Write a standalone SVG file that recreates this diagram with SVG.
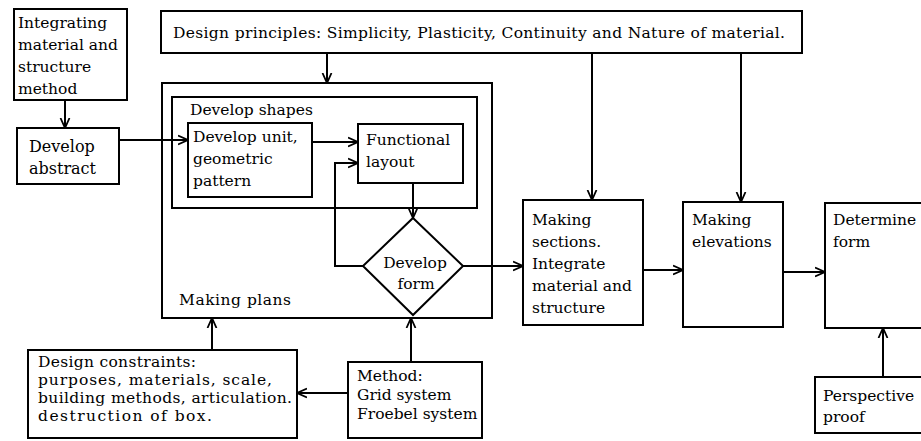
<svg xmlns="http://www.w3.org/2000/svg" width="921" height="441" viewBox="0 0 921 441">
<defs>
<marker id="ah" viewBox="0 0 10 10" refX="10" refY="5" markerWidth="10" markerHeight="12" markerUnits="userSpaceOnUse" orient="auto">
<path d="M0,0.5 L10,5 L0,9.5" fill="none" stroke="#000" stroke-width="1.8"/>
</marker>
<style>
rect, polygon { fill: #fff; stroke: #000; stroke-width: 2; }
text { font-family: "DejaVu Serif", "Liberation Serif", serif; font-size: 15.5px; fill: #000; }
.c path, .c line { fill: none; stroke: #000; stroke-width: 2; marker-end: url(#ah); }
</style>
</defs>
<rect x="0" y="0" width="921" height="441" style="fill:#fff;stroke:none"/>
<g id="n-integrating">
<rect x="14" y="9" width="113" height="91"/>
<text x="18" y="28">Integrating</text>
<text x="18" y="50">material and</text>
<text x="18" y="72">structure</text>
<text x="18" y="94">method</text>
</g>
<g id="n-abstract">
<rect x="17" y="128" width="102" height="56"/>
<text x="29" y="152" style="font-size:16px">Develop</text>
<text x="29" y="174" style="font-size:16px">abstract</text>
</g>
<g id="n-principles">
<rect x="161" y="11" width="641" height="42"/>
<text x="173" y="38" textLength="612" lengthAdjust="spacing">Design principles: Simplicity, Plasticity, Continuity and Nature of material.</text>
</g>
<g id="n-plans">
<rect x="162" y="83" width="330" height="235"/>
<text x="179" y="305" textLength="112" lengthAdjust="spacing">Making plans</text>
</g>
<g id="n-shapes">
<rect x="172" y="97" width="305" height="111"/>
<text x="190" y="115">Develop shapes</text>
</g>
<g id="n-unit">
<rect x="188" y="123" width="124" height="74"/>
<text x="193" y="142">Develop unit,</text>
<text x="193" y="164">geometric</text>
<text x="193" y="186">pattern</text>
</g>
<g id="n-functional">
<rect x="358" y="124" width="105" height="59"/>
<text x="366" y="145">Functional</text>
<text x="366" y="167">layout</text>
</g>
<g id="n-form">
<polygon points="413,218 463,266 413,315 363,266"/>
<text x="415" y="268" text-anchor="middle">Develop</text>
<text x="416" y="289" text-anchor="middle">form</text>
</g>
<g id="n-sections">
<rect x="523" y="200" width="120" height="125"/>
<text x="532" y="225">Making</text>
<text x="532" y="247">sections.</text>
<text x="532" y="269">Integrate</text>
<text x="532" y="291">material and</text>
<text x="532" y="313">structure</text>
</g>
<g id="n-elevations">
<rect x="683" y="202" width="100" height="125"/>
<text x="692" y="225">Making</text>
<text x="692" y="247">elevations</text>
</g>
<g id="n-determine">
<rect x="825" y="203" width="105" height="125"/>
<text x="833" y="225">Determine</text>
<text x="833" y="247">form</text>
</g>
<g id="n-perspective">
<rect x="815" y="377" width="115" height="56"/>
<text x="823" y="401">Perspective</text>
<text x="823" y="422">proof</text>
</g>
<g id="n-constraints">
<rect x="28" y="350" width="269" height="88"/>
<text x="38" y="367" textLength="158" lengthAdjust="spacing">Design constraints:</text>
<text x="38" y="385" textLength="234" lengthAdjust="spacing">purposes, materials, scale,</text>
<text x="38" y="403" textLength="254" lengthAdjust="spacing">building methods, articulation.</text>
<text x="38" y="421" textLength="174" lengthAdjust="spacing">destruction of box.</text>
</g>
<g id="n-method">
<rect x="348" y="362" width="134" height="76"/>
<text x="357" y="381">Method:</text>
<text x="357" y="400">Grid system</text>
<text x="357" y="419">Froebel system</text>
</g>
<g id="connectors" class="c">
<line x1="65" y1="100" x2="65" y2="128"/>
<line x1="119" y1="140" x2="188" y2="140"/>
<line x1="327" y1="53" x2="327" y2="83"/>
<line x1="312" y1="142" x2="358" y2="142"/>
<path d="M363,266 H335 V163 H358"/>
<line x1="413" y1="183" x2="413" y2="218"/>
<line x1="463" y1="266" x2="523" y2="266"/>
<line x1="592" y1="53" x2="592" y2="200"/>
<line x1="741" y1="53" x2="741" y2="202"/>
<line x1="643" y1="270" x2="683" y2="270"/>
<line x1="783" y1="272" x2="825" y2="272"/>
<line x1="883" y1="377" x2="883" y2="328"/>
<line x1="212" y1="350" x2="212" y2="318"/>
<line x1="411" y1="362" x2="411" y2="318"/>
<line x1="348" y1="393" x2="297" y2="393"/>
</g>
</svg>
